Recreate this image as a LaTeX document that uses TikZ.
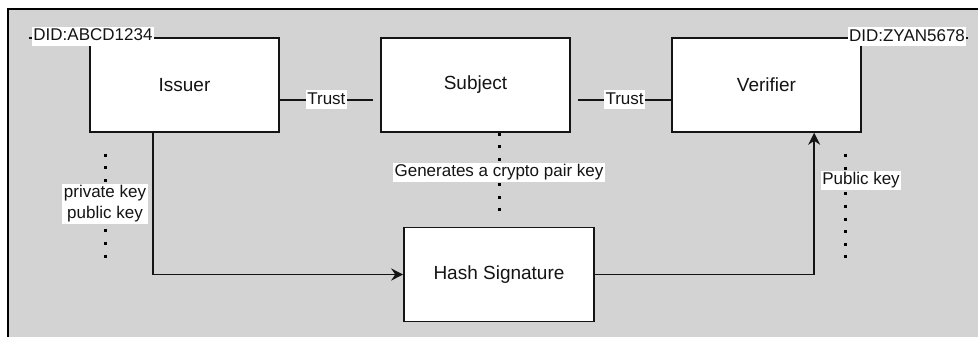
\documentclass[tikz,border=0pt]{standalone}
\usepackage{fontspec}
\setmainfont{Liberation Sans}
\usetikzlibrary{arrows.meta,calc}
\definecolor{bggray}{RGB}{211,211,211}
\definecolor{ink}{RGB}{20,20,20}
\begin{document}
\begin{tikzpicture}[x=1pt,y=-1pt,
  box/.style={draw=ink, line width=1.6pt, fill=white, minimum width=189pt, minimum height=94pt, inner sep=0pt, font=\fontsize{19}{23}\selectfont, text=ink},
  lbl/.style={fill=white, inner sep=1.5pt, text height=12.5pt, text depth=3.5pt, font=\fontsize{17}{21}\selectfont, text=ink},
  lbltwo/.style={fill=white, inner sep=1.5pt, align=center, font=\fontsize{17}{21}\selectfont, text=ink},
  conn/.style={draw=ink, line width=1.6pt},
  dotline/.style={draw=black, line width=3pt, dash pattern=on 3pt off 9.66pt},
  tip/.style={-{Stealth[length=12pt,width=12pt,inset=4pt]}}
]
\useasboundingbox (0,0) rectangle (978,337);
\fill[white] (0,0) rectangle (978,337);
\fill[bggray] (7.5,9.3) rectangle (980,340);
\draw[black, line width=2pt] (7.5,340) -- (7.5,9.3) -- (980,9.3);

% boxes
\node[box] (iss) at (184.5,85) {Issuer};
\node[box] (sub) at (475.5,85) {Subject};
\node[box] (ver) at (766.5,85) {Verifier};
\node[box, minimum width=190pt] (hash) at (499,274.5) {Hash Signature};

% trust connectors
\coordinate (t1a) at ($(iss.east)+(0,15)$);
\coordinate (t1b) at (373,100);
\coordinate (t2a) at (578,100);
\coordinate (t2b) at ($(ver.west)+(0,15)$);
\draw[conn] (t1a) -- (t1b) node[lbl, midway]{Trust};
\draw[conn] (t2a) -- (t2b) node[lbl, midway]{Trust};

% DID labels
\coordinate (d1a) at (29,38);
\coordinate (d1b) at (157,38);
\draw[conn] (d1a) -- (d1b) node[lbl, midway, yshift=1.5pt]{DID:ABCD1234};
\coordinate (d2a) at (846,38);
\coordinate (d2b) at (968,38);
\draw[conn] (d2a) -- (d2b) node[lbl, midway, yshift=1pt]{DID:ZYAN5678};

% dotted lines
\coordinate (p1a) at (105,153.5);
\coordinate (p1b) at (105,258.5);
\draw[dotline] (p1a) -- (p1b);
\node[lbltwo] (pk) at (105,204) {private key\\public key};

\coordinate (g1a) at (499,132.5);
\coordinate (g1b) at (499,211.5);
\draw[dotline] (g1a) -- (g1b);
\node[lbl] (gen) at (499,172) {Generates a crypto pair key};

\coordinate (v1a) at (845,154.2);
\coordinate (v1b) at (845,258.5);
\draw[dotline] (v1a) -- (v1b);
\node[lbl] (pub) at (861,180) {Public key};

% arrows
\draw[conn, tip] ($(iss.south west)!1/3!(iss.south east)$) |- (hash.west);
\draw[conn, tip] (hash.east) -| ($(ver.south west)!0.75!(ver.south east)$);
\end{tikzpicture}
\end{document}
